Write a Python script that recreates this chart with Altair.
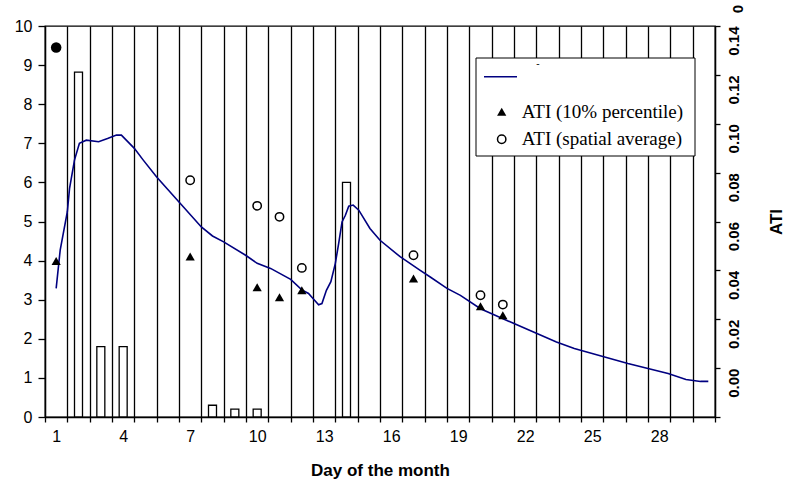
import altair as alt
import pandas as pd

# ---- data ----
rain_day = [2, 3, 4, 8, 9, 10, 14]
rain_val = [8.82, 1.8, 1.8, 0.3, 0.2, 0.2, 6.0]

curve_day = [1.0, 1.18, 1.5, 1.6, 1.82, 2.04, 2.35, 2.9, 3.3, 3.7, 3.92, 4.5, 4.9, 5.5,
             6.0, 6.5, 7.5, 8.0, 8.5, 9.5, 10.0, 10.6, 11.5, 12.0, 12.3, 12.55, 12.75,
             12.9, 13.1, 13.3, 13.5, 13.65, 13.8, 13.95, 14.1, 14.3, 14.55, 15.05, 15.5,
             16.4, 17.3, 17.75, 18.5, 19.1, 20.0, 21.5, 23.4, 24.2, 26.6, 28.4, 29.2,
             29.85, 30.2]
curve_val = [3.29, 4.27, 5.25, 5.85, 6.57, 7.0, 7.08, 7.04, 7.12, 7.21, 7.21, 6.87, 6.57,
             6.14, 5.82, 5.5, 4.86, 4.63, 4.48, 4.13, 3.93, 3.8, 3.52, 3.25, 3.16, 3.0,
             2.87, 2.9, 3.24, 3.46, 3.93, 4.44, 4.99, 5.16, 5.39, 5.42, 5.29, 4.82, 4.52,
             4.1, 3.75, 3.58, 3.29, 3.11, 2.77, 2.39, 1.92, 1.75, 1.37, 1.11, 0.96, 0.91,
             0.91]

first_day = [1]
first_val = [9.45]

p10_day = [1, 7, 10, 11, 12, 17, 20, 21]
p10_ati = [0.0438, 0.0457, 0.0331, 0.029, 0.0319, 0.0367, 0.0253, 0.0216]

avg_day = [7, 10, 11, 12, 17, 20, 21]
avg_ati = [0.0769, 0.0664, 0.0619, 0.041, 0.0462, 0.0298, 0.026]

legend_labels = ["ATI (10% percentile)", "ATI (spatial average)"]
x_title = "Day of the month"
right_title = "ATI"

# ---- layout ----
W, H = 670, 391
SANS = "Liberation Sans"
SERIF = "Liberation Serif"
NAVY = "#000080"

bounds = [i + 0.5 for i in range(31)]
ati_ticks = [round(-0.02 + 0.02 * i, 2) for i in range(9)]

xscale = alt.Scale(domain=[0.5, 30.5], nice=False, zero=False, padding=0)
yscale = alt.Scale(domain=[0, 10], nice=False, zero=False, padding=0)
ascale = alt.Scale(domain=[-0.02, 0.14], nice=False, zero=False, padding=0)

x_axis = alt.Axis(
    values=bounds, grid=True, gridColor="black", gridWidth=1.3, gridOpacity=1,
    domainColor="black", domainWidth=1.3, tickColor="black", tickSize=5, tickWidth=1.3,
    labelOffset=W / 60,
    labelExpr="((datum.value - 0.5) % 3 == 0 && datum.value < 30) ? format(datum.value + 0.5, 'd') : ''",
    labelFont=SANS, labelFontSize=16, labelColor="black", labelPadding=6,
    labelOverlap=False, labelFlush=False,
    title=x_title, titleFont=SANS, titleFontSize=17, titleFontWeight="bold",
    titleColor="black", titlePadding=18,
)
y_axis = alt.Axis(
    values=list(range(11)), grid=False, domainColor="black", domainWidth=1.3,
    tickColor="black", tickSize=7, tickWidth=1.3, labelFont=SANS, labelFontSize=16,
    labelColor="black", labelPadding=6, title=None, orient="left",
)
r_axis = alt.Axis(
    orient="right", values=ati_ticks, grid=False, domainColor="black", domainWidth=1.3,
    tickColor="black", tickSize=5, tickWidth=1.3,
    labelExpr="datum.value < -0.001 ? '' : format(datum.value, '.2f')",
    labelAngle=270, labelAlign="right", labelBaseline="top",
    labelFont=SANS, labelFontSize=15, labelFontWeight="bold", labelColor="black",
    labelPadding=6, labelOverlap=False, labelFlush=False,
    title=right_title, titleFont=SANS, titleFontSize=17, titleFontWeight="bold",
    titleColor="black", titleAngle=270, titleBaseline="top", titlePadding=27,
)

X = alt.X("day:Q", scale=xscale, axis=x_axis)

rain_df = pd.DataFrame({"day": rain_day, "v": rain_val})
curve_df = pd.DataFrame({"day": curve_day, "v": curve_val})
first_df = pd.DataFrame({"day": first_day, "v": first_val})
p10_df = pd.DataFrame({"day": p10_day, "ati": p10_ati})
avg_df = pd.DataFrame({"day": avg_day, "ati": avg_ati})
one = pd.DataFrame({"k": [0]})

Yl = alt.Y("v:Q", scale=yscale, axis=y_axis)
Yr = alt.Y("ati:Q", scale=ascale, axis=r_axis)

bars = alt.Chart(rain_df).mark_bar(size=8, fill="white", stroke="black", strokeWidth=1.3).encode(x=X, y=Yl)
curve = alt.Chart(curve_df).mark_line(color=NAVY, strokeWidth=1.6).encode(x=X, y=Yl, order="day:Q")
first = alt.Chart(first_df).mark_point(shape="circle", filled=True, color="black", size=110, opacity=1).encode(x=X, y=Yl)

p10 = alt.Chart(p10_df).mark_point(shape="triangle-up", filled=True, color="black", size=85, opacity=1).encode(x=X, y=Yr)
avg = alt.Chart(avg_df).mark_point(shape="circle", filled=False, color="black", strokeWidth=1.5, size=70, opacity=1).encode(x=X, y=Yr)

# ---- legend box (drawn by hand) ----
lg_box = alt.Chart(one).mark_rect(fill="white", stroke="black", strokeWidth=1).encode(
    x=alt.value(431), x2=alt.value(650), y=alt.value(32), y2=alt.value(130))
lg_line = alt.Chart(one).mark_rule(color=NAVY, strokeWidth=1.6).encode(
    x=alt.value(439), x2=alt.value(472), y=alt.value(50.7))
lg_dash = alt.Chart(one).mark_text(font=SERIF, fontSize=10, color="black").encode(
    x=alt.value(493), y=alt.value(38), text=alt.value("-"))
lg_tri = alt.Chart(one).mark_point(shape="triangle-up", filled=True, color="black", size=85, opacity=1).encode(
    x=alt.value(456.7), y=alt.value(85.7))
lg_circ = alt.Chart(one).mark_point(shape="circle", filled=False, color="black", strokeWidth=1.5, size=70, opacity=1).encode(
    x=alt.value(456.7), y=alt.value(113.3))
lg_t1 = alt.Chart(one).mark_text(font=SERIF, fontSize=19, align="left", baseline="middle", color="black").encode(
    x=alt.value(476.7), y=alt.value(85.5), text=alt.value(legend_labels[0]))
lg_t2 = alt.Chart(one).mark_text(font=SERIF, fontSize=19, align="left", baseline="middle", color="black").encode(
    x=alt.value(476.7), y=alt.value(113.0), text=alt.value(legend_labels[1]))
top_zero = alt.Chart(one).mark_text(font=SANS, fontSize=15, fontWeight="bold", angle=270,
                                    align="center", baseline="middle", color="black").encode(
    x=alt.value(693), y=alt.value(-17), text=alt.value("0"))

left = alt.layer(bars, curve, first)
right = alt.layer(p10, avg, lg_box, lg_line, lg_dash, lg_tri, lg_circ, lg_t1, lg_t2, top_zero)

chart = alt.layer(left, right).resolve_scale(y="independent").properties(
    width=W, height=H,
    autosize=alt.AutoSizeParams(type="none"),
    padding={"left": 45, "top": 26, "right": 72, "bottom": 69},
    background="white",
).configure_view(stroke="black", strokeWidth=1.3)

chart.save("out.html", embed_options={"renderer": "svg", "actions": False})
